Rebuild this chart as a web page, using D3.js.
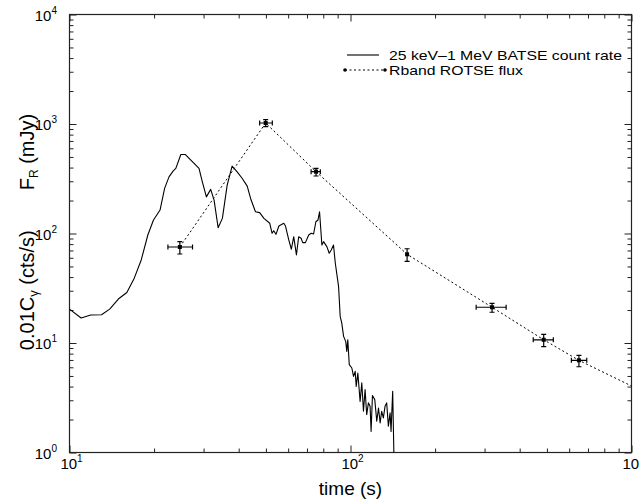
<!DOCTYPE html>
<html>
<head>
<meta charset="utf-8">
<script src="https://cdn.jsdelivr.net/npm/d3@7"></script>
<style>
  html, body { margin: 0; padding: 0; background: #fff; }
  svg { display: block; font-family: "Liberation Sans", Arial, Helvetica, sans-serif; }
</style>
</head>
<body>
<div id="chart"></div>
<script>
// GRB light curve: BATSE count rate + ROTSE R band flux, log-log

const width = 639;
const height = 502;

// BATSE 25 keV-1 MeV count rate (x0.01), time in s
const batseT = [10.0, 11.0, 11.9, 13.0, 13.9, 15.0, 16.0, 17.0, 18.0, 19.0,
  19.9, 21.0, 21.8, 22.6, 23.4, 23.9, 24.9, 25.8, 28.9, 29.7,
  30.7, 31.8, 32.7, 33.8, 35.0, 36.4, 37.9, 39.5, 41.2, 42.9,
  44.1, 45.9, 47.5, 49.2, 51.6, 52.6, 53.3, 54.3, 55.6, 57.9,
  58.7, 60.3, 61.6, 62.8, 64.2, 65.4, 66.7, 67.6, 69.1, 71.0,
  72.5, 73.9, 75.3, 76.6, 77.6, 79.1, 80.2, 82.4, 84.0, 85.4,
  87.0, 88.3, 90.7, 91.9, 93.1, 94.5, 96.2, 97.0, 97.8, 99.0,
  101.1, 102.5, 103.9, 104.8, 106.2, 108.2, 109.7, 111.2, 112.7, 114.2,
  115.8, 117.4, 118.4, 119.7, 122.0, 124.0, 125.8, 127.5, 129.1, 130.9,
  132.7, 134.5, 136.4, 138.3, 139.4, 141.3, 142.9];
const batseC = [20.4, 16.9, 18.0, 18.1, 20.4, 25.5, 28.9, 39.1, 57.3, 96.9,
  132.7, 163.8, 258, 329, 373, 393, 527, 527, 393, 296,
  216, 253, 202, 113, 137.5, 277, 412, 366, 318, 271,
  209, 158, 155, 137.5, 124, 100.4, 106, 98.3, 117, 124,
  117, 87.3, 71.8, 93.5, 63.7, 93.5, 90.4, 82.5, 82.5, 96.9,
  100.4, 99, 128, 132.7, 158, 78.6, 84.2, 75.8, 66.0, 70.7,
  78.6, 53.5, 32.7, 17.5, 15.2, 11.5, 10.3, 8.38, 10.7, 6.34,
  5.91, 4.96, 5.51, 4.02, 5.32, 2.93, 4.32, 2.38, 3.75, 2.22,
  2.84, 2.64, 1.56, 3.31, 3.04, 1.93, 2.55, 1.86, 2.38, 2.07,
  2.64, 2.84, 1.74, 2.30, 1.56, 3.62, 0.8];

// ROTSE R band points (mJy) with time and flux ranges
const rotseT   = [24.7, 49.9, 75.4, 159, 319, 487, 650];
const rotseTlo = [22.4, 47.5, 72.4, 159, 280, 447, 611];
const rotseThi = [27.4, 52.7, 78.1, 159, 358, 527, 693];
const rotseF   = [75.3, 1021, 367, 64.6, 21.2, 10.7, 6.95];
const rotseFlo = [65.0, 945, 335, 55.7, 19.1, 9.25, 6.07];
const rotseFhi = [84.2, 1095, 394, 72.6, 23.0, 12.0, 7.72];

// dotted curve through the points, continued to the frame edge
const rotseLineT = [24.7, 49.9, 75.4, 159, 319, 487, 650, 1000];
const rotseLineF = [75.3, 1021, 367, 64.6, 21.2, 10.7, 6.95, 4.05];

const xTickExp = [1, 2, 3];
const yTickExp = [0, 1, 2, 3, 4];

const legendLabels = ["25 keV\u20131 MeV BATSE count rate", "Rband ROTSE flux"];

const pL = 69.5, pR = 631.5, pT = 14.5, pB = 452.5;

const svg = d3.select("#chart").append("svg")
  .attr("width", width)
  .attr("height", height);

const x = d3.scaleLog().domain([10, 1000]).range([pL, pR]);
const y = d3.scaleLog().domain([1, 1e4]).range([pB, pT]);

const xMajor = xTickExp.map(e => Math.pow(10, e));
const yMajor = yTickExp.map(e => Math.pow(10, e));
const xMinor = x.ticks().filter(v => !xMajor.some(m => Math.abs(m - v) < 1e-9));
const yMinor = y.ticks().filter(v => !yMajor.some(m => Math.abs(m - v) < 1e-9));

svg.append("defs").append("clipPath").attr("id", "clip")
  .append("rect")
  .attr("x", pL).attr("y", pT)
  .attr("width", pR - pL).attr("height", pB - pT);

// ticks, all pointing inward
function tickAxis(axisFn, scale, values, size, transform) {
  const g = svg.append("g")
    .attr("transform", transform)
    .call(axisFn(scale).tickValues(values).tickSize(size).tickFormat(""));
  g.select(".domain").remove();
  g.selectAll(".tick line").attr("stroke", "#222").attr("stroke-width", 1);
}
tickAxis(d3.axisBottom, x, xMajor, -7, `translate(0,${pB})`);
tickAxis(d3.axisBottom, x, xMinor, -4, `translate(0,${pB})`);
tickAxis(d3.axisTop, x, xMajor, -7, `translate(0,${pT})`);
tickAxis(d3.axisTop, x, xMinor, -4, `translate(0,${pT})`);
tickAxis(d3.axisLeft, y, yMajor, -7, `translate(${pL},0)`);
tickAxis(d3.axisLeft, y, yMinor, -4, `translate(${pL},0)`);
tickAxis(d3.axisRight, y, yMajor, -7, `translate(${pR},0)`);
tickAxis(d3.axisRight, y, yMinor, -4, `translate(${pR},0)`);

svg.append("rect")
  .attr("x", pL).attr("y", pT)
  .attr("width", pR - pL).attr("height", pB - pT)
  .attr("fill", "none")
  .attr("stroke", "#222")
  .attr("stroke-width", 1.2);

// tick labels 10^n
const xl = svg.append("g").selectAll("text")
  .data(xTickExp)
  .join("text")
  .attr("x", d => x(Math.pow(10, d)) + 2)
  .attr("y", 469)
  .attr("text-anchor", "middle")
  .style("font-size", "15px")
  .text("10");
xl.append("tspan").attr("dy", -7).style("font-size", "10px").text(d => d);

const yl = svg.append("g").selectAll("text")
  .data(yTickExp)
  .join("text")
  .attr("x", 57)
  .attr("y", d => y(Math.pow(10, d)) + 6)
  .attr("text-anchor", "end")
  .style("font-size", "15px")
  .text("10");
yl.append("tspan").attr("dy", -7).style("font-size", "10px").text(d => d);

// axis titles
svg.append("text")
  .attr("x", (pL + pR) / 2)
  .attr("y", 495)
  .attr("text-anchor", "middle")
  .style("font-size", "19px")
  .text("time (s)");

const ylab = svg.append("text")
  .attr("transform", "translate(34,232) rotate(-90)")
  .attr("text-anchor", "middle")
  .style("font-size", "20px");
ylab.append("tspan").text("0.01C");
ylab.append("tspan").attr("dy", 4).style("font-size", "13px").text("\u03b3");
ylab.append("tspan").attr("dy", -4).text(" (cts/s)");
ylab.append("tspan").attr("dx", 40).text("F");
ylab.append("tspan").attr("dy", 4).style("font-size", "12px").text("R");
ylab.append("tspan").attr("dy", -4).text(" (mJy)");

const plot = svg.append("g").attr("clip-path", "url(#clip)");

// BATSE curve
const batse = batseT.map((t, i) => [t, batseC[i]]);
plot.append("path")
  .datum(batse)
  .attr("fill", "none")
  .attr("stroke", "#000")
  .attr("stroke-width", 1.1)
  .attr("stroke-linejoin", "round")
  .attr("d", d3.line().x(d => x(d[0])).y(d => y(d[1])));

// ROTSE dotted curve
const rotseLine = rotseLineT.map((t, i) => [t, rotseLineF[i]]);
plot.append("path")
  .datum(rotseLine)
  .attr("fill", "none")
  .attr("stroke", "#000")
  .attr("stroke-width", 1)
  .attr("stroke-dasharray", "2,2.5")
  .attr("d", d3.line().x(d => x(d[0])).y(d => y(d[1])));

// ROTSE points with error bars
const rotse = rotseT.map((t, i) => ({
  t, f: rotseF[i], tlo: rotseTlo[i], thi: rotseThi[i], flo: rotseFlo[i], fhi: rotseFhi[i]
}));
const pts = plot.append("g").selectAll("g")
  .data(rotse)
  .join("g")
  .attr("stroke", "#000")
  .attr("stroke-width", 1.2);
pts.append("line")
  .attr("x1", d => x(d.tlo)).attr("x2", d => x(d.thi))
  .attr("y1", d => y(d.f)).attr("y2", d => y(d.f));
pts.filter(d => d.thi > d.tlo).append("path")
  .attr("d", d => `M${x(d.tlo)},${y(d.f) - 2.5}v5M${x(d.thi)},${y(d.f) - 2.5}v5`);
pts.append("line")
  .attr("x1", d => x(d.t)).attr("x2", d => x(d.t))
  .attr("y1", d => y(d.flo)).attr("y2", d => y(d.fhi));
pts.append("path")
  .attr("d", d => `M${x(d.t) - 2.5},${y(d.flo)}h5M${x(d.t) - 2.5},${y(d.fhi)}h5`);
pts.append("rect")
  .attr("x", d => x(d.t) - 2).attr("y", d => y(d.f) - 2)
  .attr("width", 4).attr("height", 4)
  .attr("fill", "#000").attr("stroke", "none");

// legend
const leg = svg.append("g");
leg.append("line")
  .attr("x1", 347).attr("x2", 379).attr("y1", 55).attr("y2", 55)
  .attr("stroke", "#000").attr("stroke-width", 1.1);
leg.append("line")
  .attr("x1", 345).attr("x2", 385).attr("y1", 70).attr("y2", 70)
  .attr("stroke", "#000").attr("stroke-width", 1)
  .attr("stroke-dasharray", "2,2.5");
leg.selectAll("circle")
  .data([345, 385])
  .join("circle")
  .attr("cx", d => d).attr("cy", 70).attr("r", 1.8).attr("fill", "#000");
leg.selectAll("text")
  .data(legendLabels)
  .join("text")
  .attr("x", 389)
  .attr("y", (d, i) => 59.5 + i * 15)
  .attr("textLength", (d, i) => i === 0 ? 233 : 134)
  .attr("lengthAdjust", "spacingAndGlyphs")
  .style("font-size", "13px")
  .text(d => d);
</script>
</body>
</html>
